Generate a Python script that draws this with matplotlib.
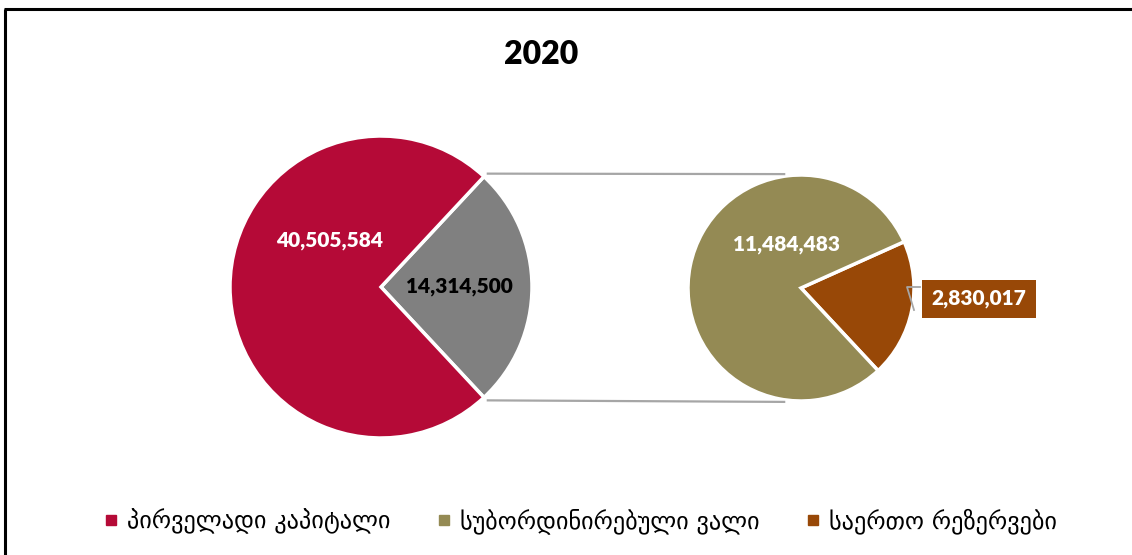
import numpy as np
import matplotlib.pyplot as plt
from matplotlib.lines import Line2D

# Capital structure, 2020
title = "2020"
main_labels = ["პირველადი კაპიტალი", "სუბორდინირებული ვალი", "საერთო რეზერვები"]
main_values = [40505584, 14314500]          # primary capital, supplementary (split below)
split_values = [11484483, 2830017]          # subordinated debt, general reserves
colors = ["#B50A37", "#948A54", "#984807"]
group_color = "#808080"

W, H = 1132, 555
fig = plt.figure(figsize=(W / 100, H / 100), dpi=100)
ax = fig.add_axes([0, 0, 1, 1])

num_font = dict(family="Lato", fontweight="heavy", fontsize=15)

# Left pie: supplementary wedge centred on the right-hand side
c1, r1 = (381, 268), 151
sup_angle = 360 * main_values[1] / sum(main_values)
start1 = -sup_angle / 2
ax.pie([main_values[1], main_values[0]], colors=[group_color, colors[0]],
       center=c1, radius=r1, startangle=start1, counterclock=True,
       wedgeprops=dict(edgecolor="white", linewidth=2.5), frame=True)

# Right pie: breakdown of the supplementary wedge
c2, r2 = (801, 267), 113
start2 = -47
ax.pie([split_values[1], split_values[0]], colors=[colors[2], colors[1]],
       center=c2, radius=r2, startangle=start2, counterclock=True,
       wedgeprops=dict(edgecolor="white", linewidth=2.5), frame=True)
ax.set_xlim(0, W)
ax.set_ylim(0, H)
ax.set_aspect("equal")
ax.axis("off")

# Connector lines between the two pies
a_top = np.deg2rad(sup_angle / 2)
for s in (1, -1):
    x0 = c1[0] + (r1 + 4) * np.cos(a_top)
    y0 = c1[1] + s * (r1 + 4) * np.sin(a_top)
    a2 = np.deg2rad(s * 98)
    x1 = c2[0] + r2 * np.cos(a2)
    y1 = c2[1] + r2 * np.sin(a2) + s * 2
    ax.plot([x0, x1], [y0, y1], color="#A6A6A6", lw=1.6, solid_capstyle="butt")

fmt = lambda v: f"{v:,}"
ax.text(c1[0] - 51, c1[1] + 47, fmt(main_values[0]), color="white",
        ha="center", va="center", **num_font)
ax.text(c1[0] + 78, c1[1], fmt(main_values[1]), color="black",
        ha="center", va="center", **num_font)
ax.text(c2[0] - 14, c2[1] + 44, fmt(split_values[0]), color="white",
        ha="center", va="center", **num_font)

# Boxed label for the small wedge, with a short leader line
ax.plot([920, 907, 914], [268, 268, 245], color="#A6A6A6", lw=1.3)
ax.text(979, 256, fmt(split_values[1]), color="white", ha="center", va="center",
        bbox=dict(boxstyle="square,pad=0.45", fc=colors[2], ec="none"), **num_font)

ax.text(541, 500, title, ha="center", va="center",
        family="Lato", fontweight="heavy", fontsize=23)

# Legend
handles = [Line2D([0], [0], marker="s", linestyle="none", markersize=7,
                  markerfacecolor=c, markeredgecolor=c) for c in colors]
fig.legend(handles, main_labels, loc="center", bbox_to_anchor=(581 / W, 1 - 521 / H),
           ncol=3, frameon=False, handlelength=0.5, handletextpad=0.4,
           columnspacing=1.95, prop=dict(family="DejaVu Sans", size=17.5))

# Chart-area border on the left and top edges
ax.plot([5, 5], [0, H - 8.5], color="black", lw=2.2, solid_capstyle="butt")
ax.plot([4, W], [H - 8.5, H - 8.5], color="black", lw=2.2, solid_capstyle="butt")

fig.savefig("out.png", dpi=100)
